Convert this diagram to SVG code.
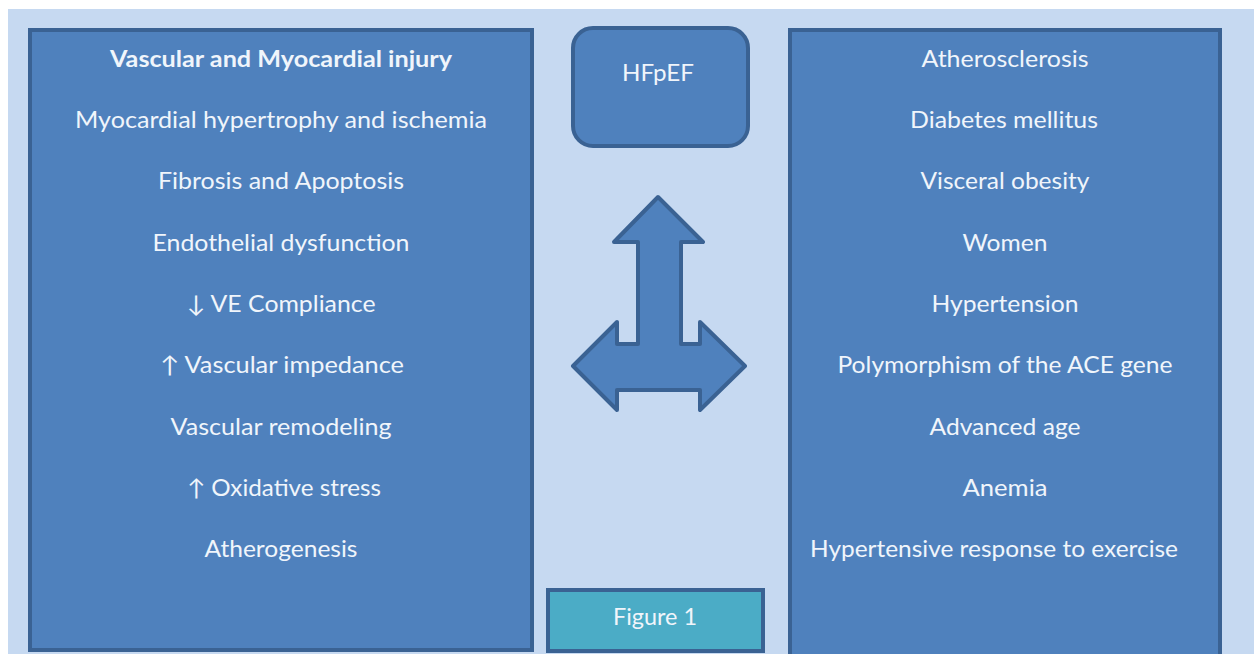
<svg xmlns="http://www.w3.org/2000/svg" width="1254" height="654" viewBox="0 0 1254 654">
<style>
.box{fill:#4f81bd;stroke:#3a6293;stroke-width:4}
.t{font-family:Lato,"Open Sans","Liberation Sans",sans-serif;font-size:23px;fill:#f0f5fb;text-anchor:middle}
.b{font-weight:bold}
</style>
<rect x="0" y="0" width="1254" height="654" fill="#ffffff"/>
<rect x="8" y="9" width="1246" height="645" fill="#c6d9f1"/>
<g id="left-box">
<rect class="box" x="30" y="30" width="502" height="620"/>
<text class="t b" x="281" y="67" textLength="342" lengthAdjust="spacingAndGlyphs">Vascular and Myocardial injury</text>
<text class="t" x="281" y="128" textLength="412" lengthAdjust="spacingAndGlyphs">Myocardial hypertrophy and ischemia</text>
<text class="t" x="281" y="189" textLength="246" lengthAdjust="spacingAndGlyphs">Fibrosis and Apoptosis</text>
<text class="t" x="281" y="251" textLength="257" lengthAdjust="spacingAndGlyphs">Endothelial dysfunction</text>
<text class="t" x="281" y="312" textLength="189" lengthAdjust="spacingAndGlyphs">↓ VE Compliance</text>
<text class="t" x="282" y="373" textLength="244" lengthAdjust="spacingAndGlyphs">↑ Vascular impedance</text>
<text class="t" x="281" y="435" textLength="221" lengthAdjust="spacingAndGlyphs">Vascular remodeling</text>
<text class="t" x="284" y="496" textLength="194" lengthAdjust="spacingAndGlyphs">↑ Oxidative stress</text>
<text class="t" x="281" y="557" textLength="153" lengthAdjust="spacingAndGlyphs">Atherogenesis</text>
</g>
<g id="right-box">
<rect class="box" x="790" y="30" width="430" height="640"/>
<text class="t" x="1005" y="67" textLength="167" lengthAdjust="spacingAndGlyphs">Atherosclerosis</text>
<text class="t" x="1004" y="128" textLength="188" lengthAdjust="spacingAndGlyphs">Diabetes mellitus</text>
<text class="t" x="1005" y="189" textLength="169" lengthAdjust="spacingAndGlyphs">Visceral obesity</text>
<text class="t" x="1005" y="251" textLength="85" lengthAdjust="spacingAndGlyphs">Women</text>
<text class="t" x="1005" y="312" textLength="147" lengthAdjust="spacingAndGlyphs">Hypertension</text>
<text class="t" x="1005" y="373" textLength="335" lengthAdjust="spacingAndGlyphs">Polymorphism of the ACE gene</text>
<text class="t" x="1005" y="435" textLength="151" lengthAdjust="spacingAndGlyphs">Advanced age</text>
<text class="t" x="1005" y="496" textLength="85" lengthAdjust="spacingAndGlyphs">Anemia</text>
<text class="t" x="994" y="557" textLength="368" lengthAdjust="spacingAndGlyphs">Hypertensive response to exercise</text>
</g>
<g id="hfpef">
<rect class="box" x="573" y="28" width="175" height="118" rx="20"/>
<text class="t" x="658" y="81" textLength="72" lengthAdjust="spacingAndGlyphs">HFpEF</text>
</g>
<g id="connectors">
<polygon class="box" stroke-linejoin="round" points="658,197 703,242 681,242 681,344 700,344 700,322 745,366 700,410 700,390 617,390 617,410 573,366 617,322 617,344 638,344 638,242 614,242"/>
</g>
<g id="figure-label">
<rect x="548" y="590" width="215" height="61" fill="#4bacc6" stroke="#3a6293" stroke-width="4"/>
<text class="t" x="655" y="625" textLength="84" lengthAdjust="spacingAndGlyphs">Figure 1</text>
</g>
</svg>
